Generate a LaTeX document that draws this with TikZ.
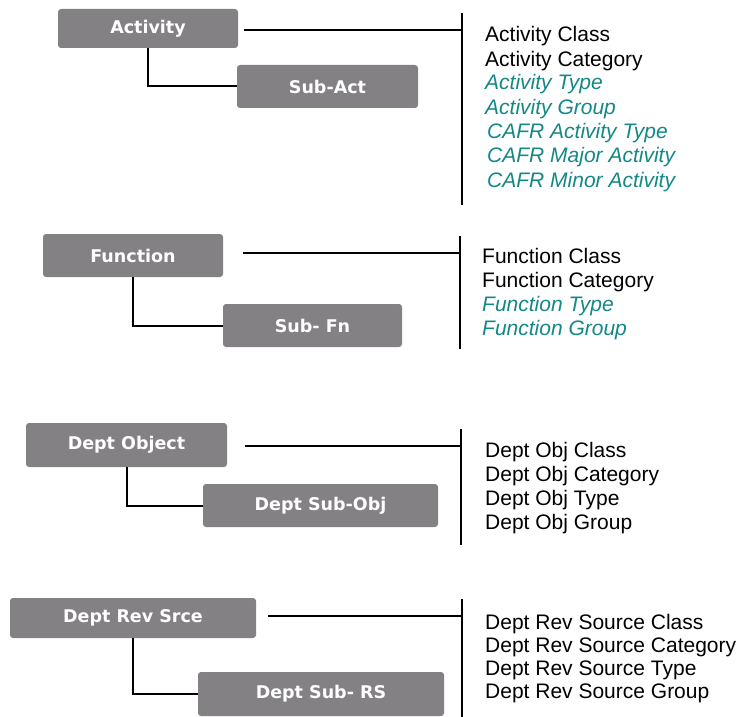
\documentclass[tikz,border=0pt]{standalone}
\usepackage{fontspec}
\setmainfont{Liberation Sans}
\newfontfamily\boxfont{DejaVu Sans}
\definecolor{boxgray}{RGB}{131,129,132}
\definecolor{tealtxt}{RGB}{20,135,135}
\begin{document}
\begin{tikzpicture}[x=1pt,y=-1pt,
  catbox/.style={fill=boxgray,rounded corners=3pt,inner sep=0pt,text=white,
    font=\boxfont\bfseries\fontsize{17.5}{20}\selectfont},
  item/.style={anchor=base west,inner sep=0pt,font=\fontsize{21}{23.5}\selectfont},
  derived/.style={item,text=tealtxt,font=\itshape\fontsize{21}{23.5}\selectfont},
  conn/.style={draw=black,line width=2pt},
  bar/.style={draw=black,line width=2pt}]
\useasboundingbox (0,0) rectangle (737,717);

% ---------- group 1 ----------
\node[catbox,minimum width=180pt,minimum height=39pt] (act) at (148,28.5) {Activity};
\node[catbox,minimum width=181pt,minimum height=43pt] (subact) at (327.5,86.5) {Sub-Act};
\coordinate (b1t) at (462,13);
\coordinate (b1b) at (462,205);
\coordinate (h1) at (244,30);
\draw[conn] (act.south) |- (subact.west);
\draw[conn] (h1) -- (h1 -| b1t);
\draw[bar] (b1t) -- (b1b);
\node[item] (a1) at (485,41.5) {Activity Class};
\node[item] (a2) at (485,66.5) {Activity Category};
\node[derived] (a3) at (485,90) {Activity Type};
\node[derived] (a4) at (485,114.5) {Activity Group};
\node[derived] (a5) at (487,138.5) {CAFR Activity Type};
\node[derived] (a6) at (487,162.5) {CAFR Major Activity};
\node[derived] (a7) at (487,187) {CAFR Minor Activity};

% ---------- group 2 ----------
\node[catbox,minimum width=180pt,minimum height=43pt] (fn) at (133,255.5) {Function};
\node[catbox,minimum width=179pt,minimum height=43pt] (subfn) at (312.5,325.5) {Sub- Fn};
\coordinate (b2t) at (460,236);
\coordinate (b2b) at (460,349);
\coordinate (h2) at (243,253);
\draw[conn] (fn.south) |- (subfn.west);
\draw[conn] (h2) -- (h2 -| b2t);
\draw[bar] (b2t) -- (b2b);
\node[item] (f1) at (482,263.5) {Function Class};
\node[item] (f2) at (482,287.5) {Function Category};
\node[derived] (f3) at (482,311.5) {Function Type};
\node[derived] (f4) at (482,335.5) {Function Group};

% ---------- group 3 ----------
\node[catbox,minimum width=201pt,minimum height=44pt] (obj) at (126.5,445) {Dept Object};
\node[catbox,minimum width=235pt,minimum height=43pt] (subobj) at (320.5,505.5) {Dept Sub-Obj};
\coordinate (b3t) at (461,429);
\coordinate (b3b) at (461,545);
\coordinate (h3) at (245,446);
\draw[conn] (obj.south) |- (subobj.west);
\draw[conn] (h3) -- (h3 -| b3t);
\draw[bar] (b3t) -- (b3b);
\node[item] (o1) at (485,457.5) {Dept Obj Class};
\node[item] (o2) at (485,481.5) {Dept Obj Category};
\node[item] (o3) at (485,505.5) {Dept Obj Type};
\node[item] (o4) at (485,529.5) {Dept Obj Group};

% ---------- group 4 ----------
\node[catbox,minimum width=246pt,minimum height=40pt] (rev) at (133,618) {Dept Rev Srce};
\node[catbox,minimum width=246pt,minimum height=44pt] (subrev) at (321,694) {Dept Sub- RS};
\coordinate (b4t) at (462,599);
\coordinate (b4b) at (462,717);
\coordinate (h4) at (268,616);
\draw[conn] (rev.south) |- (subrev.west);
\draw[conn] (h4) -- (h4 -| b4t);
\draw[bar] (b4t) -- (b4b);
\node[item] (r1) at (485,629) {Dept Rev Source Class};
\node[item] (r2) at (485,652) {Dept Rev Source Category};
\node[item] (r3) at (485,675) {Dept Rev Source Type};
\node[item] (r4) at (485,698) {Dept Rev Source Group};
\end{tikzpicture}
\end{document}
